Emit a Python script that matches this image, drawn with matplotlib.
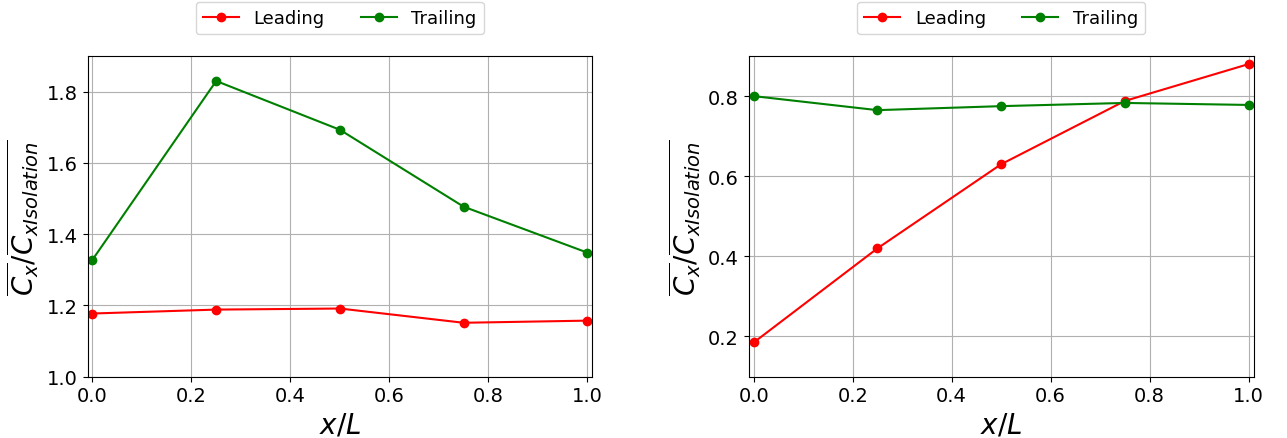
import numpy as np
import matplotlib.pyplot as plt

# positions along the body
x_pos = [0.0, 0.25, 0.5, 0.75, 1.0]

# normalised mean drag, case A
lead_a = [1.177, 1.188, 1.191, 1.151, 1.157]
trail_a = [1.328, 1.830, 1.693, 1.477, 1.348]

# normalised mean drag, case B
lead_b = [0.185, 0.420, 0.630, 0.788, 0.880]
trail_b = [0.800, 0.765, 0.775, 0.783, 0.778]

fig, axes = plt.subplots(1, 2, figsize=(12.87, 4.39), dpi=100)

ylabel = r'$\overline{C_x}/\overline{C_{xIsolation}}$'
cases = [(lead_a, trail_a, (1.0, 1.9), np.arange(1.0, 1.81, 0.2)),
         (lead_b, trail_b, (0.1, 0.9), np.arange(0.2, 0.81, 0.2))]

for ax, (lead, trail, ylim, yt) in zip(axes, cases):
    ax.plot(x_pos, lead, 'o-', color='red', label='Leading')
    ax.plot(x_pos, trail, 'o-', color='green', label='Trailing')
    ax.set_xlim(-0.01, 1.01)
    ax.set_ylim(*ylim)
    ax.set_yticks(yt)
    ax.grid(True)
    ax.set_xlabel(r'$x/L$', fontsize=20)
    ax.set_ylabel(ylabel, fontsize=20)
    ax.tick_params(labelsize=14)
    ax.legend(loc='lower center', bbox_to_anchor=(0.5, 1.04), ncol=2,
              fontsize=13)

plt.subplots_adjust(left=0.068, right=0.974, bottom=0.14, top=0.87,
                    wspace=0.31)
plt.savefig('out.png')
